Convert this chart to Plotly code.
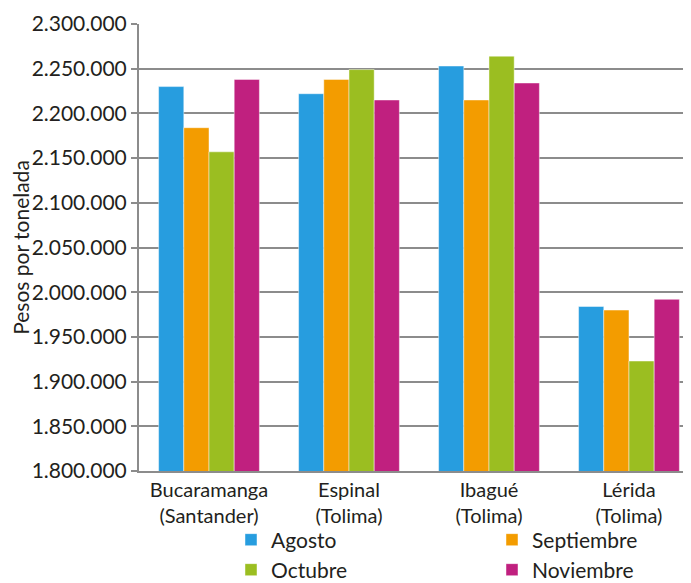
import plotly.graph_objects as go

categories = ["Bucaramanga<br>(Santander)", "Espinal<br>(Tolima)", "Ibagué<br>(Tolima)", "Lérida<br>(Tolima)"]
agosto = [2230000, 2222000, 2253000, 1984000]
septiembre = [2184000, 2238000, 2215000, 1980000]
octubre = [2157000, 2249000, 2264000, 1923000]
noviembre = [2238000, 2215000, 2234000, 1992000]

series = [
    ("Agosto", agosto, "#279ddf", "legend"),
    ("Septiembre", septiembre, "#f39c00", "legend"),
    ("Octubre", octubre, "#9bbe21", "legend2"),
    ("Noviembre", noviembre, "#c0207f", "legend2"),
]

FONT = "Lato, 'Open Sans', sans-serif"
TXT = "#231f20"
GRID = "#8c8c8c"

fig = go.Figure()
for name, vals, col, lg in series:
    fig.add_trace(go.Bar(
        x=list(range(len(categories))), y=vals, name=name,
        marker=dict(color=col, line=dict(color="rgba(255,255,255,0.45)", width=1)),
        legend=lg,
    ))

# page body has an 8px margin; figure is sized/placed to compensate
OFF = 8
W, H = 691 - OFF, 583 - OFF
legend_common = dict(
    orientation="h", xref="container", yref="container",
    xanchor="left", yanchor="middle",
    entrywidth=216, entrywidthmode="pixels",
    font=dict(family=FONT, size=21, color=TXT),
    bgcolor="rgba(0,0,0,0)", borderwidth=0,
    traceorder="normal",
)

fig.update_layout(
    width=W, height=H,
    margin=dict(l=139 - OFF, r=0, t=24 - OFF, b=583 - 471),
    paper_bgcolor="white", plot_bgcolor="white",
    separators=",.",
    barmode="group", bargap=0.28, bargroupgap=0,
    font=dict(family=FONT, size=20, color=TXT),
    legend=dict(x=(231 - OFF) / W, y=1 - (540 - OFF) / H, **legend_common),
    legend2=dict(x=(231 - OFF) / W, y=1 - (570 - OFF) / H, **legend_common),
    xaxis=dict(
        range=[-0.5, 3.443], automargin=False,
        tickmode="array", tickvals=list(range(len(categories))), ticktext=categories,
        tickfont=dict(family=FONT, size=20, color=TXT),
        showgrid=False, showline=True, linecolor=GRID, linewidth=2,
        ticks="", zeroline=False,
    ),
    yaxis=dict(
        range=[1800000, 2300000], dtick=50000, tick0=1800000, automargin=False,
        tickformat=",d",
        tickfont=dict(family=FONT, size=21, color=TXT),
        showgrid=True, gridcolor=GRID, gridwidth=1.5,
        showline=True, linecolor=GRID, linewidth=2,
        ticks="outside", ticklen=6, tickcolor=GRID, tickwidth=1.5,
        zeroline=False,
        title=dict(text="Pesos por tonelada", font=dict(family=FONT, size=21, color=TXT), standoff=4),
    ),
)

fig.write_html("out.html")
